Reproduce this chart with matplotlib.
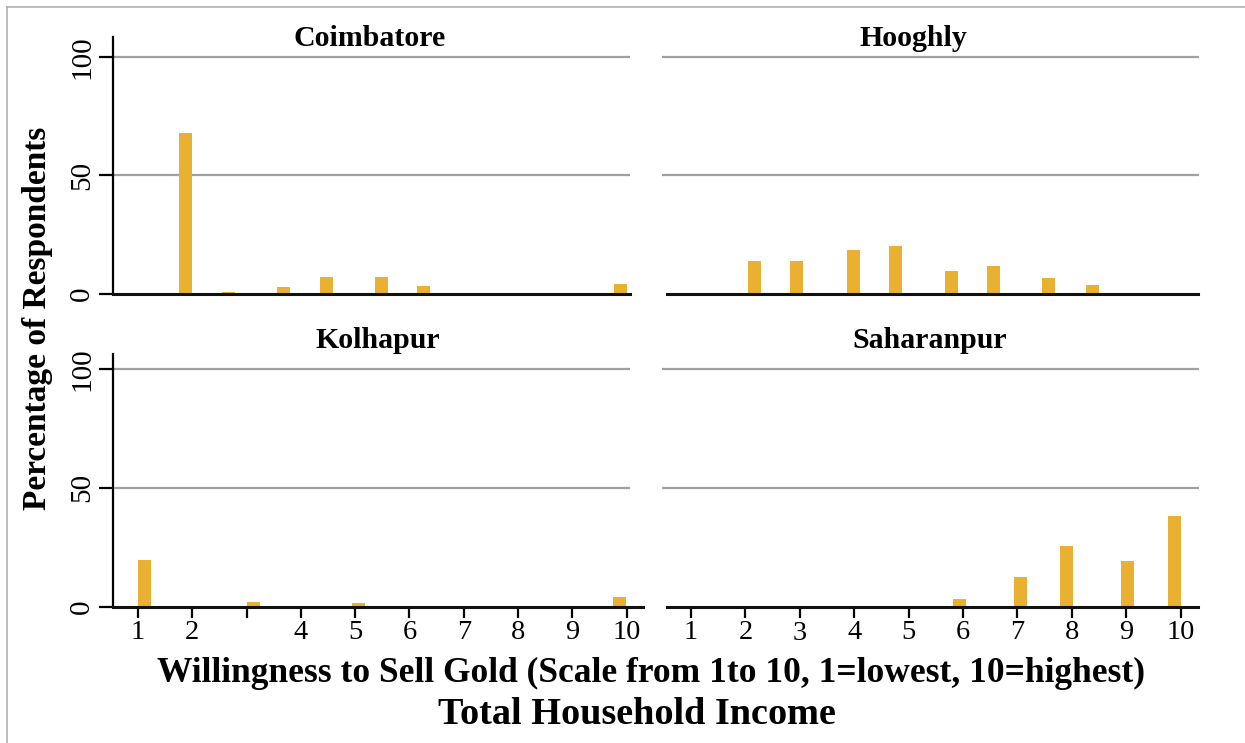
import numpy as np
import matplotlib
matplotlib.use('Agg')
import matplotlib.pyplot as plt
from matplotlib.lines import Line2D

plt.rcParams['font.family'] = ['Liberation Serif', 'DejaVu Serif']

# panel names, bar positions (on the 1-10 scale) and percentages
districts = ['Coimbatore', 'Hooghly', 'Kolhapur', 'Saharanpur']

coim_x = [1.87, 2.67, 3.68, 4.47, 5.48, 6.26, 9.88]
coim_y = [68.0, 0.8, 3.0, 7.2, 7.2, 3.4, 4.2]

hoog_x = [2.16, 2.94, 3.99, 4.76, 5.78, 6.56, 7.58, 8.38]
hoog_y = [14.0, 14.0, 18.7, 20.4, 9.8, 11.9, 6.8, 3.9]

kolh_x = [1.12, 3.13, 5.06, 9.87]
kolh_y = [19.4, 1.7, 1.3, 3.8]

saha_x = [5.93, 7.05, 7.90, 9.02, 9.89]
saha_y = [3.2, 12.4, 25.5, 19.2, 38.2]

y_ticks = [0, 50, 100]
x_ticks = [1, 2, 3, 4, 5, 6, 7, 8, 9, 10]
x_labels_left = ['1', '2', '', '4', '5', '6', '7', '8', '9', '10']

bar_col = '#e9b031'
grid_col = '#a0a0a0'
W, H = 1245, 743

fig = plt.figure(figsize=(W / 100, H / 100), dpi=100)

def px_axes(x0, x1, ytop, ybot):
    return fig.add_axes([x0 / W, (H - ybot) / H, (x1 - x0) / W, (ybot - ytop) / H])

ax_tl = px_axes(113, 630, 37, 294)
ax_tr = px_axes(662, 1199, 37, 294)
ax_bl = px_axes(113, 643, 354, 606.5)
ax_br = px_axes(662, 1199, 354, 606.5)

panels = [
    (ax_tl, coim_x, coim_y, (0.54, 10.06), 108.4, True, False, (370, 38)),
    (ax_tr, hoog_x, hoog_y, (0.467, 10.338), 108.4, False, False, (913, 38)),
    (ax_bl, kolh_x, kolh_y, (0.54, 10.30), 106.3, True, True, (378, 341)),
    (ax_br, saha_x, saha_y, (0.467, 10.338), 106.3, False, True, (930, 341)),
]

for name, (ax, xs, ys, xl, ytop, left, bottom, tpos) in zip(districts, panels):
    ax.set_xlim(*xl)
    ax.set_ylim(0, ytop)
    # gridlines
    gx_end = 10.06 if left else xl[1]
    for g in [50, 100]:
        ax.hlines(g, xl[0], gx_end, color=grid_col, lw=1.6, zorder=1)
    ax.bar(xs, ys, width=0.24, color=bar_col, zorder=2)

    for s in ['top', 'right']:
        ax.spines[s].set_visible(False)
    ax.spines['bottom'].set_linewidth(2.2)
    ax.spines['bottom'].set_color('#111111')
    ax.spines['bottom'].set_zorder(3)
    if not left:
        ax.spines['bottom'].set_bounds(0.559, 10.32)
        ax.spines['left'].set_visible(False)
        ax.set_yticks([])
    else:
        ax.spines['left'].set_linewidth(1.6)
        ax.set_yticks(y_ticks)
        ax.set_yticklabels([str(v) for v in y_ticks], rotation=90,
                           va='center', fontsize=21)
        ax.tick_params(axis='y', length=10, width=1.6, pad=3)

    if bottom:
        ax.set_xticks(x_ticks)
        if left:
            ax.set_xticklabels(x_labels_left, fontsize=20.5)
        else:
            ax.set_xticklabels([str(v) if v != 3 else '' for v in x_ticks],
                               fontsize=20.5)
            ax.text(3, -0.058, '3', fontsize=20.5, ha='center', va='top',
                    transform=ax.get_xaxis_transform())
        ax.tick_params(axis='x', length=8, width=1.6, pad=2)
    else:
        ax.set_xticks([])

    fig.text(tpos[0] / W, 1 - tpos[1] / H, name, fontsize=21.5,
             fontweight='bold', ha='center', va='center')

fig.text(38 / W, 1 - 318 / H, 'Percentage of Respondents', rotation=90,
         ha='center', va='center', fontsize=24, fontweight='bold')
fig.text(651 / W, 1 - 673 / H,
         'Willingness to Sell Gold (Scale from 1to 10, 1=lowest, 10=highest)',
         ha='center', va='center', fontsize=25.5, fontweight='bold')
fig.text(637 / W, 1 - 714 / H, 'Total Household Income',
         ha='center', va='center', fontsize=27.5, fontweight='bold')

# thin frame along the top and left edges
fig.add_artist(Line2D([7 / W, 1], [1 - 7 / H, 1 - 7 / H], color='#b0b0b0', lw=1.2))
fig.add_artist(Line2D([7 / W, 7 / W], [0, 1 - 7 / H], color='#b0b0b0', lw=1.2))

fig.savefig('out.png', dpi=100)
